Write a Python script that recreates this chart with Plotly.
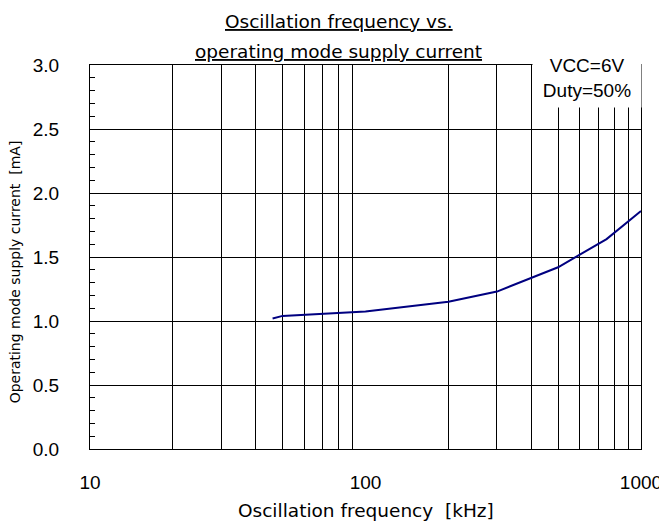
import plotly.graph_objects as go

# Oscillation frequency [kHz] vs operating mode supply current [mA]
freq_khz = [46, 50, 100, 200, 300, 500, 750, 1000]
current_ma = [1.02, 1.04, 1.075, 1.15, 1.23, 1.42, 1.64, 1.86]

x_major = [10, 100, 1000]
x_minor = [20, 30, 40, 50, 60, 70, 80, 90, 200, 300, 400, 500, 600, 700, 800, 900]
y_ticks = [0.0, 0.5, 1.0, 1.5, 2.0, 2.5, 3.0]

title_font = "DejaVu Sans"
num_font = "Liberation Sans, Arial"

fig = go.Figure()
fig.add_trace(go.Scatter(
    x=freq_khz, y=current_ma,
    mode='lines',
    line=dict(color='#000080', width=2),
    showlegend=False,
))

# the page body adds an 8px offset, so the figure is sized to fit inside the window
fig.update_layout(
    width=659, height=519,
    paper_bgcolor='white',
    plot_bgcolor='white',
    margin=dict(l=82, r=26, t=57, b=78),
    xaxis=dict(
        type='log',
        range=[1, 3],
        tickvals=x_major,
        ticktext=[str(v) for v in x_major],
        ticks='',
        ticklabelstandoff=16,
        tickfont=dict(family=num_font, size=19, color='black'),
        showgrid=False,
        minor=dict(tickvals=x_minor, showgrid=True, gridcolor='black', gridwidth=1, ticks=''),
        showline=True, linecolor='black', linewidth=1, mirror=True,
        zeroline=False,
        automargin=False,
    ),
    yaxis=dict(
        range=[0, 3.0],
        tickvals=y_ticks,
        ticktext=[f"{v:.1f}" for v in y_ticks],
        ticks='inside', ticklen=8, tickcolor='black',
        ticklabelstandoff=26,
        tickfont=dict(family=num_font, size=19, color='black'),
        showgrid=True, gridcolor='black', gridwidth=1,
        minor=dict(dtick=0.1, ticks='inside', ticklen=5, tickcolor='black', showgrid=False),
        showline=True, linecolor='black', linewidth=1, mirror=True,
        zeroline=False,
        automargin=False,
    ),
)

# chart title (two underlined lines)
fig.add_annotation(xref='paper', yref='paper', x=0.5 - 27 / 551, y=1 + 43 / 384,
                   xanchor='center', yanchor='middle', showarrow=False,
                   text="<u>Oscillation frequency vs.</u>",
                   font=dict(family=title_font, size=18.5, color='black'))
fig.add_annotation(xref='paper', yref='paper', x=0.5 - 27 / 551, y=1 + 14 / 384,
                   xanchor='center', yanchor='middle', showarrow=False,
                   text="<u>operating mode supply current</u>",
                   font=dict(family=title_font, size=18.5, color='black'))

# axis titles
fig.add_annotation(xref='paper', yref='paper', x=0.5, y=-61 / 384,
                   xanchor='center', yanchor='middle', showarrow=False,
                   text="Oscillation frequency  [kHz]",
                   font=dict(family=title_font, size=18.5, color='black'))
fig.add_annotation(xref='paper', yref='paper', x=-75 / 551, y=0.46,
                   xanchor='center', yanchor='middle', showarrow=False,
                   textangle=-90,
                   text="Operating mode supply current  [mA]",
                   font=dict(family=title_font, size=14, color='black'))

# condition box
fig.add_annotation(
    xref='paper', yref='paper',
    x=0.902, y=0.967,
    xanchor='center', yanchor='middle',
    width=100, height=50,
    text="VCC=6V<br>Duty=50%",
    showarrow=False,
    align='center',
    bgcolor='white',
    borderpad=4,
    font=dict(family=num_font, size=19, color='black'),
)

fig.write_html("out.html")
